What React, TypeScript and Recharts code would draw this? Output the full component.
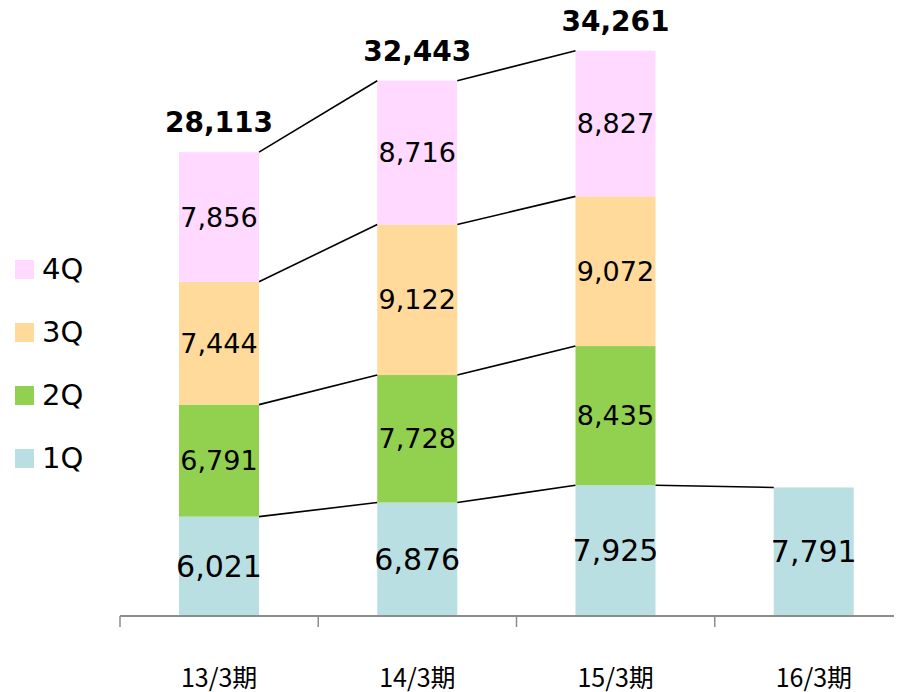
import React from 'react';
import { ComposedChart, Bar, XAxis, YAxis, LabelList, Legend } from 'recharts';

const categories = ['13/3期', '14/3期', '15/3期', '16/3期'];
const q1 = [6021, 6876, 7925, 7791];
const q2 = [6791, 7728, 8435, null];
const q3 = [7444, 9122, 9072, null];
const q4 = [7856, 8716, 8827, null];
const totals = [28113, 32443, 34261, null];
const boundaryTicks = [0, 1, 2, 3];

const seriesNames = ['1Q', '2Q', '3Q', '4Q'];
const seriesKeys = ['q1', 'q2', 'q3', 'q4'];
const colors = ['#BADFE2', '#92D050', '#FFDA9B', '#FFD9FF'];

const data = categories.map((c, i) => ({
  name: c,
  pos: i,
  q1: q1[i],
  q2: q2[i],
  q3: q3[i],
  q4: q4[i],
  total: totals[i],
}));

const NUM_FONT = '"DejaVu Sans", Verdana, sans-serif';

const geom: Record<string, Record<number, { x: number; y: number; w: number }>> = {};

function makeShape(key: string, fill: string) {
  return (props: any) => {
    const { x, y, width, height, index, payload } = props;
    const v = payload ? payload[key] : null;
    if (v == null || !isFinite(x) || !isFinite(y)) return <g />;
    if (!geom[key]) geom[key] = {};
    geom[key][index] = { x, y, w: width };
    const prev = geom[key][index - 1];
    return (
      <g>
        <rect x={x} y={y} width={width} height={height} fill={fill} />
        {prev ? (
          <line
            x1={prev.x + prev.w}
            y1={prev.y}
            x2={x}
            y2={y}
            stroke="#000"
            strokeWidth={1.6}
          />
        ) : null}
      </g>
    );
  };
}

const fmt = (v: any) => (v == null ? '' : Number(v).toLocaleString('en-US'));

const TotalLabel = (props: any) => {
  const { x, y, width, value } = props;
  if (value == null) return null;
  return (
    <text
      x={x + width / 2}
      y={y - 20}
      textAnchor="middle"
      fontFamily={NUM_FONT}
      fontWeight="bold"
      fontSize={28}
      fill="#000"
    >
      {fmt(value)}
    </text>
  );
};

const EmptyTick = () => <g />;

const LegendContent = () => {
  const items = seriesNames.map((n, i) => ({ n, c: colors[i] })).reverse();
  return (
    <div>
      {items.map((it) => (
        <div
          key={it.n}
          style={{ height: 63, display: 'flex', alignItems: 'center' }}
        >
          <div style={{ width: 19, height: 19, background: it.c, marginRight: 8 }} />
          <span style={{ fontFamily: NUM_FONT, fontSize: 29, color: '#000', lineHeight: '29px' }}>
            {it.n}
          </span>
        </div>
      ))}
    </div>
  );
};

export default function App() {
  return (
    <div style={{ width: 894, height: 684, overflow: 'hidden' }}>
      <style>{'html,body{overflow:hidden;}'}</style>
      <ComposedChart
        width={894}
        height={684}
        data={data}
        margin={{ top: 14, right: -11, bottom: 0, left: 112 }}
        barCategoryGap={0}
      >
        <XAxis
          xAxisId="a"
          dataKey="pos"
          type="number"
          domain={[0, 4]}
          allowDataOverflow
          ticks={boundaryTicks}
          tick={<EmptyTick />}
          height={1}
          tickSize={11}
          axisLine={{ stroke: '#8C8C8C', strokeWidth: 2 }}
          tickLine={{ stroke: '#8C8C8C', strokeWidth: 1.5 }}
        />
        <XAxis
          xAxisId="b"
          dataKey="name"
          type="category"
          height={75}
          axisLine={false}
          tickLine={false}
          tickSize={6}
          tickMargin={46}
          tick={{ fontFamily: '"Noto Sans CJK JP", sans-serif', fontSize: 25, fill: '#000' }}
          interval={0}
        />
        <YAxis hide domain={[0, 36000]} allowDataOverflow />
        <Legend
          layout="vertical"
          align="center"
          verticalAlign="middle"
          content={<LegendContent />}
          wrapperStyle={{ left: 7, top: 230, width: 100 }}
        />
        {seriesKeys.map((k, i) => (
          <Bar
            key={k}
            xAxisId="b"
            dataKey={k}
            name={seriesNames[i]}
            stackId="a"
            fill={colors[i]}
            barSize={80}
            isAnimationActive={false}
            shape={makeShape(k, colors[i])}
          >
            <LabelList
              dataKey={k}
              position="center"
              formatter={fmt}
              fill="#000"
              fontFamily={NUM_FONT}
              fontSize={i === 0 ? 30 : 27}
            />
            {k === 'q4' ? <LabelList dataKey="total" content={<TotalLabel />} /> : null}
          </Bar>
        ))}
      </ComposedChart>
    </div>
  );
}
